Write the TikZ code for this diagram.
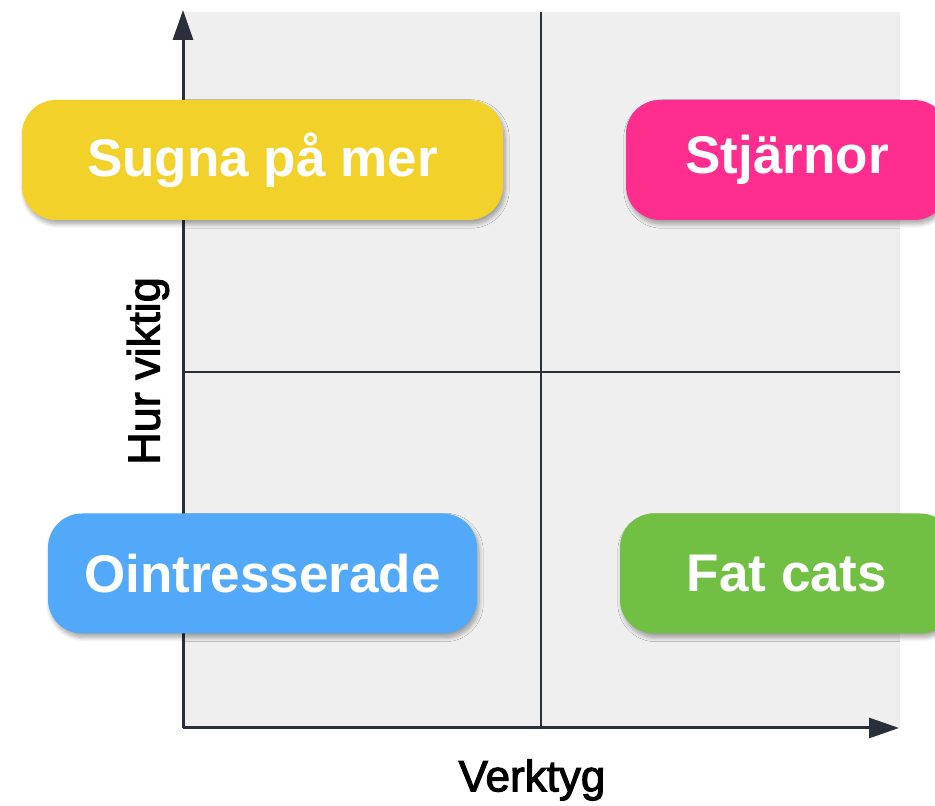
\documentclass[tikz,border=0pt]{standalone}
\usepackage{fontspec}
\setmainfont{Liberation Sans}
\newfontfamily\labelfont[FakeBold=2.5]{Liberation Sans}
\usetikzlibrary{arrows.meta,shadows.blur}
\definecolor{sunyellow}{RGB}{243,209,43}
\definecolor{hotpink}{RGB}{255,46,142}
\definecolor{skyblue}{RGB}{82,168,249}
\definecolor{grassgreen}{RGB}{113,191,67}
\definecolor{panelgrey}{RGB}{239,239,239}
\definecolor{axisdark}{RGB}{43,47,58}

\begin{document}
\begin{tikzpicture}[x=0.5pt,y=0.5pt,
        quadbox/.style={rounded corners=17pt, minimum height=60pt, text=white,
            font=\bfseries\fontsize{26.5}{30}\selectfont,
            blur shadow={shadow blur steps=8, shadow blur extra rounding=2pt,
                shadow xshift=1pt, shadow yshift=-2pt, shadow opacity=35}},
        axisline/.style={line width=1.5pt, draw=axisdark, -{Triangle[length=15pt,width=10pt]}},
        midline/.style={line width=1pt, draw=axisdark}]
        \useasboundingbox (0,0) rectangle (935,806);
        \fill[panelgrey] (184,78) rectangle (900,794);
        % quadrant lines
        \coordinate (midtop) at (541,794);
        \coordinate (midbottom) at (541,78);
        \coordinate (midleft) at (183,434);
        \coordinate (midright) at (900,434);
        \draw[midline] (midbottom) -- (midtop);
        \draw[midline] (midleft) -- (midright);
        % axes
        \coordinate (origin) at (183,78);
        \coordinate (ytip) at (183,796);
        \coordinate (xtip) at (899,78);
        \draw[axisline] (origin) -- (ytip);
        \draw[axisline] (origin) -- (xtip);
        \node[rotate=90, font=\labelfont\fontsize{22.5}{26}\selectfont] (ylabel) at (148,435) {Hur viktig};
        \node[font=\labelfont\fontsize{22}{25}\selectfont] (xlabel) at (532,26) {Verktyg};
        % quadrants
        \node[quadbox, fill=sunyellow, minimum width=240.5pt] (sugna) at (262.5,646) {Sugna på mer};
        \node[quadbox, fill=hotpink, minimum width=161pt] (stjarnor) at (787,646) {Stjärnor};
        \node[quadbox, fill=skyblue, minimum width=214.5pt] (ointresserade) at (262.5,232.5) {Ointresserade};
        \node[quadbox, fill=grassgreen, minimum width=167pt] (fatcats) at (787,232.5) {Fat cats};
\end{tikzpicture}
\end{document}
